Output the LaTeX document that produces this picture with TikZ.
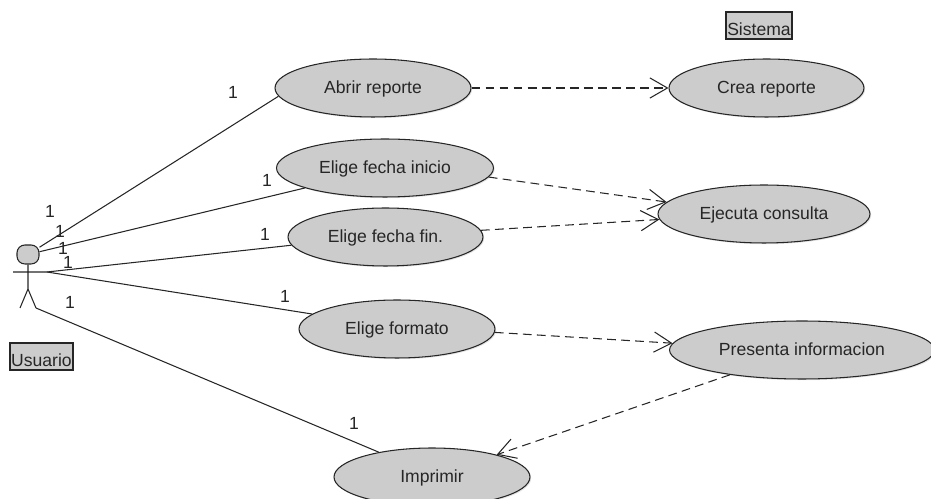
\documentclass[tikz,border=0pt]{standalone}
\usepackage{fontspec}
\setmainfont{Liberation Sans}
\usepackage{tikz}
\usetikzlibrary{arrows.meta,shapes.geometric,shadows}
\definecolor{casegray}{HTML}{CCCCCC}
\definecolor{inkgray}{HTML}{262626}

\tikzset{
	softshadow/.style={drop shadow={shadow xshift=.7pt,shadow yshift=-.7pt,opacity=.22}},
	usecase/.style={ellipse,softshadow,draw=inkgray,fill=casegray,line width=.6pt,inner sep=0pt,minimum height=1.16cm,text height=6pt,text depth=0pt,text=inkgray},
	titlebox/.style={rectangle,draw=inkgray,fill=casegray,line width=.6pt,inner sep=0pt,minimum height=.54cm,text height=11pt,text depth=0pt,text=inkgray},
	mult/.style={inner sep=0pt,text=inkgray},
	assoc/.style={draw=inkgray,line width=.6pt},
	include/.style={draw=inkgray,line width=.6pt,dash pattern=on 5pt off 3pt,-{Straight Barb[length=10pt,width=11.5pt]}}
}

\begin{document}
\begin{tikzpicture}[x=.02cm,y=-.02cm]
		\useasboundingbox (0,0) rectangle (931,499);

		\node[titlebox,minimum width=1.32cm] (sistema) at (759,25.5) {Sistema};
		\node[titlebox,minimum width=1.26cm] (usuario) at (41.5,356.5) {Usuario};

		\node[usecase,minimum width=3.92cm] (abrir) at (373,88) {Abrir reporte};
		\node[usecase,minimum width=4.34cm] (inicio) at (385,168) {Elige fecha inicio};
		\node[usecase,minimum width=3.9cm] (fin) at (385.5,237) {Elige fecha fin.};
		\node[usecase,minimum width=3.92cm] (formato) at (397,329) {Elige formato};
		\node[usecase,minimum width=3.92cm] (imprimir) at (432,477) {Imprimir};
		\node[usecase,minimum width=3.9cm] (crea) at (766.5,88) {Crea reporte};
		\node[usecase,minimum width=4.24cm] (consulta) at (764,214) {Ejecuta consulta};
		\node[usecase,minimum width=5.3cm] (presenta) at (802,350) {Presenta informacion};

		% actor
		\node[rectangle,rounded corners=4.5pt,draw=inkgray,fill=casegray,line width=.6pt,inner sep=0pt,minimum width=.44cm,minimum height=.38cm] (cabeza) at (28,254.5) {};
		\coordinate (cadera) at (28,289);
		\coordinate (manoizq) at (13,272);
		\coordinate (manoder) at (47,272);
		\coordinate (pieizq) at (20,308);
		\coordinate (pieder) at (36,308);
		\draw[assoc] (cabeza) -- (cadera) -- (pieizq) (cadera) -- (pieder) (manoizq) -- (manoder);

		\draw[assoc] (cabeza) -- (abrir.185);
		\draw[assoc] (cabeza) -- (inicio.194);
		\draw[assoc] (manoder) -- (fin.185);
		\draw[assoc] (manoder) -- (formato.170);
		\draw[assoc] (pieder) -- (imprimir.155);

		\draw[include] (abrir.east) -- (crea.west);
		\draw[include] (inicio.-5) -- (consulta.173);
		\draw[include] (fin.4) -- (consulta.183);
		\draw[include] (formato.-2) -- (presenta.177);
		\draw[include] (presenta.199) -- (imprimir.19);

		\node[mult] (m1) at (233,92) {1};
		\node[mult] (m2) at (267,180) {1};
		\node[mult] (m3) at (265,234) {1};
		\node[mult] (m4) at (285,296) {1};
		\node[mult] (m5) at (354,423) {1};
		\node[mult] (u1) at (50,211) {1};
		\node[mult] (u2) at (60,231) {1};
		\node[mult] (u3) at (63,248) {1};
		\node[mult] (u4) at (68,262) {1};
		\node[mult] (u5) at (70,302) {1};
	\end{tikzpicture}
\end{document}
